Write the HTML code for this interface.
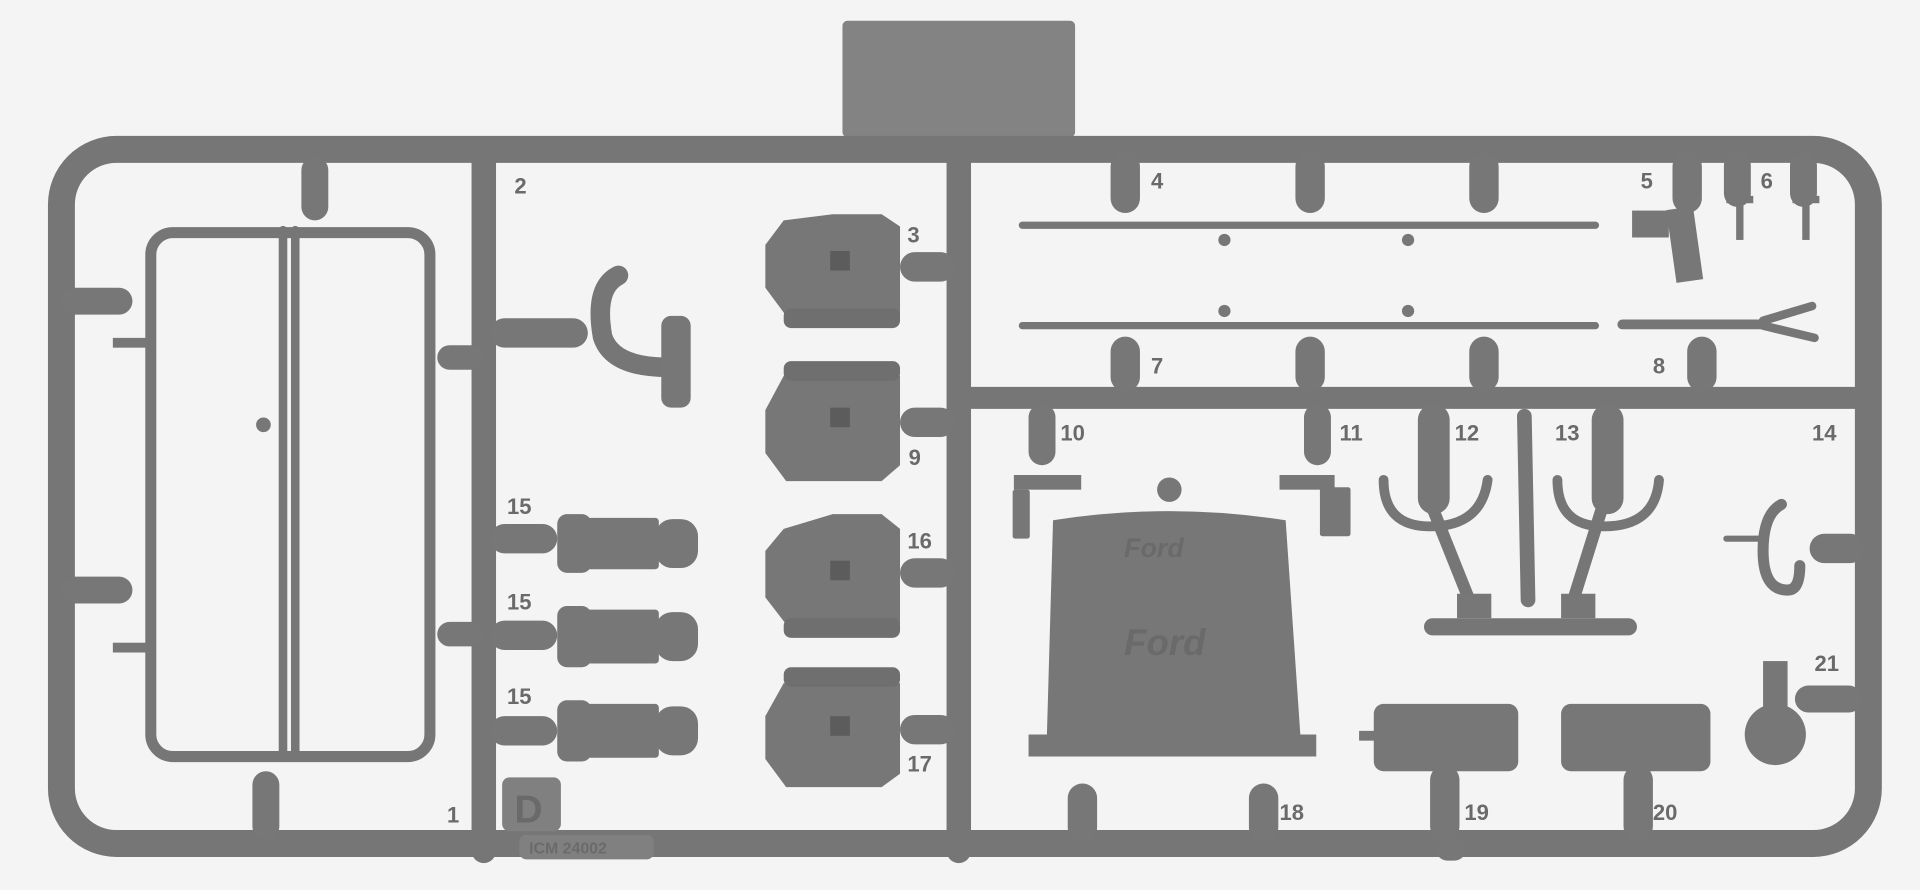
<!DOCTYPE html>
<html><head><meta charset="utf-8"><style>
html,body{margin:0;padding:0;background:#f4f4f4;overflow:hidden}
svg{display:block}
text{font-family:"Liberation Sans",sans-serif;font-weight:bold;fill:#6a6a6a}
</style></head><body>
<svg width="1920" height="890" viewBox="0 0 1568 727" xmlns="http://www.w3.org/2000/svg">
<rect width="1568" height="727" fill="#f4f4f4"/>
<g fill="#787878" stroke="none">
<!-- tab -->
<rect x="688" y="17" width="190" height="95" rx="4" fill="#838383"/>
</g>
<g fill="none" stroke="#767676" stroke-linecap="round">
<!-- frame -->
<rect x="50" y="122" width="1476" height="567" rx="45" stroke-width="22"/>
<line x1="395" y1="125" x2="395" y2="695" stroke-width="20"/>
<line x1="783" y1="125" x2="783" y2="695" stroke-width="20"/>
<line x1="790" y1="325" x2="1520" y2="325" stroke-width="18"/>
<!-- left part frame -->
<rect x="123" y="190" width="228" height="428" rx="18" stroke-width="9"/>
<line x1="231" y1="188" x2="231" y2="618" stroke-width="7"/>
<line x1="241" y1="188" x2="241" y2="618" stroke-width="7"/>
<!-- rods -->
<line x1="835" y1="184" x2="1303" y2="184" stroke-width="6"/>
<line x1="835" y1="266" x2="1303" y2="266" stroke-width="6"/>
<line x1="1325" y1="265" x2="1440" y2="265" stroke-width="8"/>
<path d="M1440 262 L1480 250 M1440 266 L1482 276" stroke-width="7"/>
<!-- hooks -->
<path d="M505 225 Q485 235 492 275 Q500 300 545 300" stroke-width="16"/>
<path d="M1455 412 Q1440 420 1440 450 Q1440 482 1460 482 Q1470 482 1470 462" stroke-width="9"/>
<line x1="1410" y1="440" x2="1440" y2="440" stroke-width="5"/>
<!-- exhaust shapes 12/13 -->
<path d="M1130 392 Q1130 430 1168 430 Q1210 430 1215 392" stroke-width="8"/>
<path d="M1272 392 Q1272 430 1310 430 Q1352 430 1355 392" stroke-width="8"/>
<path d="M1168 410 L1200 490 M1310 410 L1285 490" stroke-width="10"/>
<line x1="1245" y1="340" x2="1248" y2="490" stroke-width="12"/>
<line x1="1170" y1="512" x2="1330" y2="512" stroke-width="14"/>
</g>
<g fill="#777777">
<!-- gates on frame -->
<rect x="50" y="235" width="58" height="22" rx="11"/>
<rect x="50" y="471" width="58" height="22" rx="11"/>
<rect x="246" y="128" width="22" height="52" rx="11"/>
<rect x="206" y="630" width="22" height="56" rx="11"/>
<rect x="357" y="282" width="38" height="20" rx="10"/>
<rect x="357" y="508" width="38" height="20" rx="10"/>
<rect x="400" y="260" width="80" height="24" rx="12"/>
<rect x="400" y="428" width="55" height="24" rx="12"/>
<rect x="400" y="507" width="55" height="24" rx="12"/>
<rect x="400" y="585" width="55" height="24" rx="12"/>
<rect x="735" y="206" width="45" height="24" rx="12"/>
<rect x="735" y="333" width="45" height="24" rx="12"/>
<rect x="735" y="456" width="45" height="24" rx="12"/>
<rect x="735" y="584" width="45" height="24" rx="12"/>
<rect x="907" y="124" width="24" height="50" rx="12"/>
<rect x="1058" y="124" width="24" height="50" rx="12"/>
<rect x="1200" y="124" width="24" height="50" rx="12"/>
<rect x="1366" y="124" width="24" height="50" rx="12"/>
<rect x="1408" y="124" width="22" height="45" rx="11"/>
<rect x="1462" y="124" width="22" height="45" rx="11"/>
<rect x="907" y="275" width="24" height="45" rx="12"/>
<rect x="1058" y="275" width="24" height="45" rx="12"/>
<rect x="1200" y="275" width="24" height="45" rx="12"/>
<rect x="1378" y="275" width="24" height="45" rx="12"/>
<rect x="840" y="330" width="22" height="50" rx="11"/>
<rect x="1065" y="330" width="22" height="50" rx="11"/>
<rect x="1158" y="330" width="26" height="90" rx="13"/>
<rect x="1300" y="330" width="26" height="90" rx="13"/>
<rect x="1478" y="436" width="45" height="24" rx="12"/>
<rect x="1466" y="560" width="55" height="22" rx="11"/>
<rect x="872" y="640" width="24" height="48" rx="12"/>
<rect x="1020" y="640" width="24" height="48" rx="12"/>
<rect x="1168" y="625" width="24" height="62" rx="12"/>
<rect x="1326" y="625" width="24" height="62" rx="12"/>
<rect x="1173" y="685" width="24" height="18" rx="9"/>
<!-- lamps -->
<g id="lamp">
<path d="M640 180 L680 175 L720 175 L735 185 L735 258 L642 258 L625 235 L625 200 Z"/>
<rect x="640" y="252" width="95" height="16" rx="6" fill="#6f6f6f"/>
</g>
<path d="M640 307 L735 307 L735 380 L720 393 L642 393 L625 370 L625 335 Z"/>
<rect x="640" y="295" width="95" height="16" rx="6" fill="#6f6f6f"/>
<path d="M640 432 L680 420 L720 420 L735 432 L735 510 L642 510 L625 488 L625 450 Z"/>
<rect x="640" y="505" width="95" height="16" rx="6" fill="#6f6f6f"/>
<path d="M640 558 L735 558 L735 632 L720 643 L642 643 L625 620 L625 585 Z"/>
<rect x="640" y="545" width="95" height="16" rx="6" fill="#6f6f6f"/>
<!-- boxes 15 -->
<g><rect x="455" y="420" width="28" height="48" rx="8"/><rect x="478" y="423" width="60" height="42" rx="3"/><rect x="535" y="424" width="35" height="40" rx="14"/></g>
<g><rect x="455" y="495" width="28" height="50" rx="8"/><rect x="478" y="498" width="60" height="44" rx="3"/><rect x="535" y="500" width="35" height="40" rx="14"/></g>
<g><rect x="455" y="572" width="28" height="50" rx="8"/><rect x="478" y="575" width="60" height="44" rx="3"/><rect x="535" y="577" width="35" height="40" rx="14"/></g>
<!-- hook base -->
<rect x="540" y="258" width="24" height="75" rx="8"/>
<!-- radiator -->
<circle cx="955" cy="400" r="10"/>
<path d="M860 425 Q955 410 1050 425 L1062 600 L1075 600 L1075 618 L840 618 L840 600 L855 600 Z"/>
<!-- tanks -->
<rect x="1122" y="575" width="118" height="55" rx="8"/>
<rect x="1275" y="575" width="122" height="55" rx="8"/>
<rect x="1110" y="597" width="15" height="8"/>
<circle cx="1450" cy="600" r="25"/>
<rect x="1440" y="540" width="20" height="40"/>
<!-- small bits -->
<rect x="1333" y="172" width="30" height="22"/>
<rect x="1365" y="170" width="22" height="60" transform="rotate(-8 1375 200)"/>
<rect x="828" y="388" width="55" height="12"/>
<rect x="827" y="400" width="14" height="40" rx="2"/>
<rect x="1045" y="388" width="45" height="12"/>
<rect x="1078" y="398" width="25" height="40" rx="2"/>
<rect x="1190" y="485" width="28" height="20"/><rect x="1275" y="485" width="28" height="20"/>
<rect x="1410" y="160" width="22" height="6"/><rect x="1464" y="160" width="22" height="6"/>
<rect x="1418" y="166" width="6" height="30"/><rect x="1472" y="166" width="6" height="30"/>
<circle cx="1000" cy="196" r="5"/><circle cx="1150" cy="196" r="5"/>
<circle cx="1000" cy="254" r="5"/><circle cx="1150" cy="254" r="5"/>
<circle cx="215" cy="347" r="6"/>
<rect x="92" y="276" width="28" height="8"/><rect x="92" y="525" width="28" height="8"/>
<!-- label plates -->
<rect x="410" y="635" width="48" height="44" rx="6" fill="#808080"/>
<rect x="424" y="682" width="110" height="20" rx="6" fill="#808080"/>
</g>
<g fill="#6a6a6a" font-size="15">
<rect x="678" y="205" width="16" height="16" fill="#5c5c5c"/><rect x="678" y="333" width="16" height="16" fill="#5c5c5c"/>
<rect x="678" y="458" width="16" height="16" fill="#5c5c5c"/><rect x="678" y="585" width="16" height="16" fill="#5c5c5c"/>
</g>
<g font-size="18">
<text x="420" y="158">2</text><text x="741" y="198">3</text><text x="940" y="154">4</text>
<text x="1340" y="154">5</text><text x="1438" y="154">6</text><text x="940" y="305">7</text>
<text x="1350" y="305">8</text><text x="742" y="380">9</text><text x="866" y="360">10</text>
<text x="1094" y="360">11</text><text x="1188" y="360">12</text><text x="1270" y="360">13</text>
<text x="1480" y="360">14</text><text x="414" y="420">15</text><text x="414" y="498">15</text>
<text x="414" y="575">15</text><text x="741" y="448">16</text><text x="741" y="630">17</text>
<text x="1045" y="670">18</text><text x="1196" y="670">19</text><text x="1350" y="670">20</text>
<text x="1482" y="548">21</text><text x="365" y="672">1</text>
</g>
<text x="420" y="672" font-size="32" style="fill:#6a6a6a">D</text>
<text x="432" y="697" font-size="13" style="fill:#6a6a6a">ICM 24002</text>
<text x="918" y="455" font-size="22" font-style="italic" style="fill:#6a6a6a">Ford</text>
<text x="918" y="535" font-size="30" font-style="italic" style="fill:#6a6a6a">Ford</text>
</svg>
</body></html>
